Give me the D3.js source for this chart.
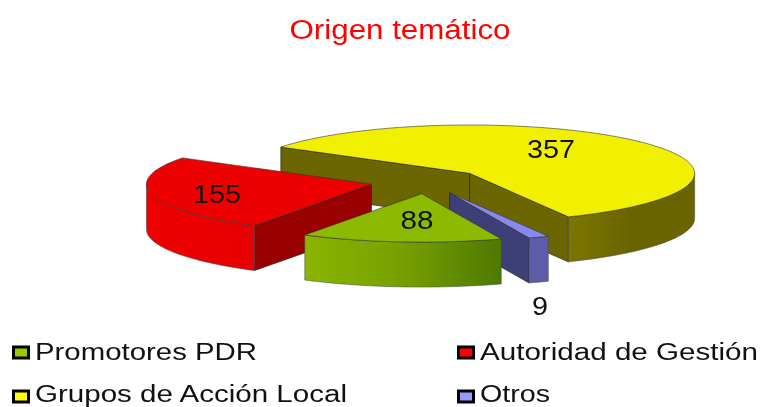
<!DOCTYPE html>
<html>

<head>
  <meta charset="UTF-8">
  <title>Origen temático</title>
  <script src="https://d3js.org/d3.v7.min.js"></script>
  <style>
    body {
      margin: 0;
      padding: 0;
      background-color: white;
    }

    svg {
      display: block;
      filter: blur(0.55px);
    }

    text {
      font-family: "Liberation Sans", Arial, sans-serif;
    }
  </style>
</head>

<body>
  <svg id="chart" width="762" height="407"></svg>

  <script>
    var chartTitle = "Origen temático";
    var categories = ["Promotores PDR", "Autoridad de Gestión", "Grupos de Acción Local", "Otros"];
    var values = [88, 155, 357, 9];

    var topColors = ["#8cba00", "#ee0000", "#f0f000", "#8888ee"];
    var wallColors = ["#5c8000", "#990000", "#6b6600", "#3f3f78"];
    var rimStops = [
      ["#8ab500", "#76a000", "#4f7800"],
      ["#f00000", "#ec0000", "#e60000"],
      ["#7d7500", "#6a6400", "#6a6400"],
      ["#5c5ca8", "#5c5ca8", "#5c5ca8"]
    ];
    var swatchColors = ["#99cc00", "#ff0000", "#ffff00", "#9999ff"];

    var svg = d3.select("#chart");

    // pie geometry
    var radius = 225;
    var tilt = 0.215;
    var depth = 45;
    var explode = 57;
    var center = [427, 181.5];
    var startDeg = 159.3;
    var toRad = Math.PI / 180;

    var px = d3.scaleLinear().domain([-1, 1]).range([center[0] - radius, center[0] + radius]);
    var py = d3.scaleLinear().domain([-1, 1]).range([center[1] - radius * tilt, center[1] + radius * tilt]);

    var pie = d3.pie()
      .sort(null)
      .startAngle(startDeg * toRad)
      .endAngle((startDeg + 360) * toRad);

    var slices = pie(values).map(function (d, i) {
      var mid = (d.startAngle + d.endAngle) / 2;
      var shift = explode / radius;
      return {
        i: i,
        start: d.startAngle,
        end: d.endAngle,
        mid: mid,
        ox: Math.sin(mid) * shift,
        oy: -Math.cos(mid) * shift
      };
    });

    var line = d3.line();

    function point(s, angle, r, drop) {
      return [
        px(s.ox + Math.sin(angle) * r),
        py(s.oy - Math.cos(angle) * r) + drop
      ];
    }

    function arcPoints(s, a0, a1, drop) {
      var steps = Math.max(2, Math.ceil((a1 - a0) / (1.5 * toRad)));
      return d3.range(steps + 1).map(function (n) {
        return point(s, a0 + (a1 - a0) * n / steps, 1, drop);
      });
    }

    // parts of the outer edge that face the viewer
    function rimRanges(s) {
      var out = [];
      [-1, 0, 1, 2].forEach(function (k) {
        var a0 = Math.max(s.start, (90 + 360 * k) * toRad);
        var a1 = Math.min(s.end, (270 + 360 * k) * toRad);
        if (a1 > a0) out.push([a0, a1]);
      });
      return out;
    }

    var defs = svg.append("defs");
    rimStops.forEach(function (stops, i) {
      var grad = defs.append("linearGradient").attr("id", "rim" + i);
      stops.forEach(function (c, j) {
        grad.append("stop").attr("offset", (j * 50) + "%").attr("stop-color", c);
      });
    });

    // back to front
    var order = slices.slice().sort(function (a, b) {
      return a.oy - b.oy;
    });

    order.forEach(function (s) {
      var g = svg.append("g").attr("class", "slice");
      var apex = point(s, 0, 0, 0);
      var apexLow = point(s, 0, 0, depth);

      // radial walls, only when they face the viewer
      if (Math.sin(s.start) < 0) {
        g.append("path")
          .attr("d", line([apex, point(s, s.start, 1, 0), point(s, s.start, 1, depth), apexLow]) + "Z")
          .attr("fill", wallColors[s.i])
          .attr("stroke", "#222")
          .attr("stroke-width", 0.7);
      }
      if (Math.sin(s.end) > 0) {
        g.append("path")
          .attr("d", line([apex, point(s, s.end, 1, 0), point(s, s.end, 1, depth), apexLow]) + "Z")
          .attr("fill", wallColors[s.i])
          .attr("stroke", "#222")
          .attr("stroke-width", 0.7);
      }

      rimRanges(s).forEach(function (r) {
        var pts = arcPoints(s, r[0], r[1], 0).concat(arcPoints(s, r[0], r[1], depth).reverse());
        g.append("path")
          .attr("d", line(pts) + "Z")
          .attr("fill", "url(#rim" + s.i + ")")
          .attr("stroke", "#444")
          .attr("stroke-width", 0.5);
      });

      g.append("path")
        .attr("d", line([apex].concat(arcPoints(s, s.start, s.end, 0))) + "Z")
        .attr("fill", topColors[s.i])
        .attr("stroke", "#333")
        .attr("stroke-width", 0.6);
    });

    // title
    svg.append("text")
      .attr("x", 400)
      .attr("y", 38.5)
      .attr("text-anchor", "middle")
      .attr("font-size", 27)
      .attr("fill", "#ff0000")
      .attr("textLength", 221)
      .attr("lengthAdjust", "spacingAndGlyphs")
      .text(chartTitle);

    // value labels, placed by hand as in the picture
    var labelPos = [[417, 229], [217, 203], [551, 158], [540, 315]];
    var labelWidth = [33, 48, 48, 16];
    values.forEach(function (v, i) {
      svg.append("text")
        .attr("x", labelPos[i][0])
        .attr("y", labelPos[i][1])
        .attr("text-anchor", "middle")
        .attr("font-size", 25)
        .attr("fill", "#111")
        .attr("textLength", labelWidth[i])
        .attr("lengthAdjust", "spacingAndGlyphs")
        .text(v);
    });

    // legend, two rows of two
    var legendX = [12, 457];
    var legendY = [347, 391];
    var legendBase = [360, 402];
    var legendTextW = [222, 278, 312, 70];
    categories.forEach(function (name, i) {
      var col = i % 2;
      var row = Math.floor(i / 2);
      svg.append("rect")
        .attr("x", legendX[col] + 1.5)
        .attr("y", legendY[row])
        .attr("width", 15)
        .attr("height", 11)
        .attr("fill", swatchColors[i])
        .attr("stroke", "#000")
        .attr("stroke-width", 3);
      svg.append("text")
        .attr("x", legendX[col] + 23)
        .attr("y", legendBase[row])
        .attr("font-size", 23)
        .attr("fill", "#111")
        .attr("textLength", legendTextW[i])
        .attr("lengthAdjust", "spacingAndGlyphs")
        .text(name);
    });
  </script>
</body>

</html>
